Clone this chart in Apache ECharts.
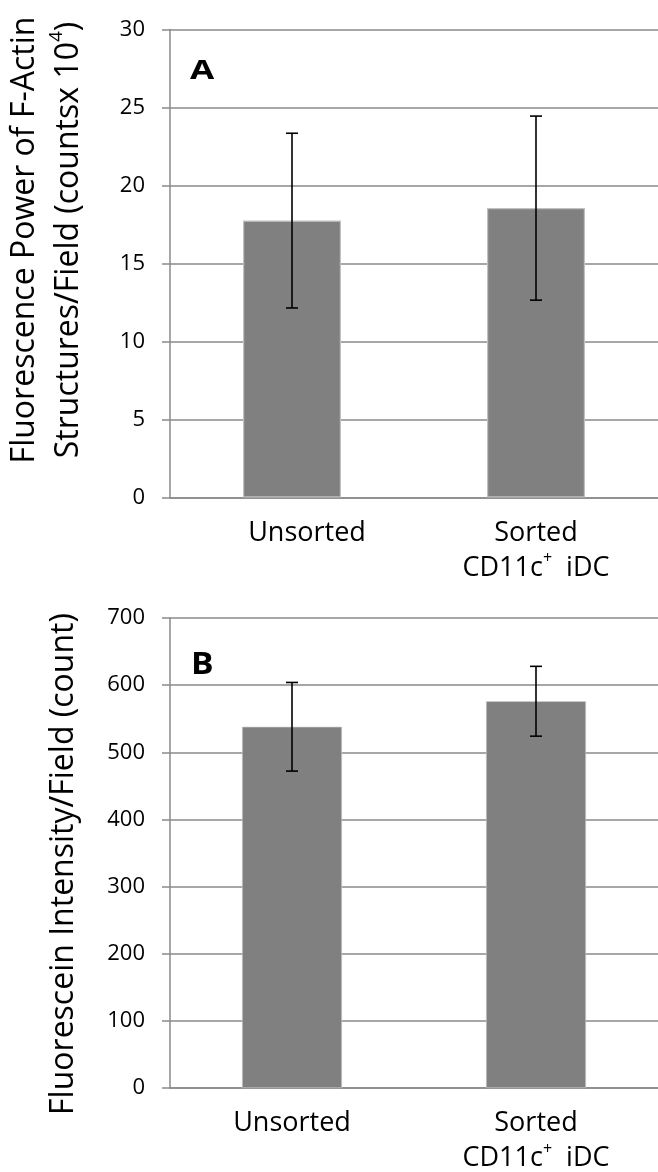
<!DOCTYPE html>
<html>
<head>
<meta charset="utf-8">
<script src="https://cdn.jsdelivr.net/npm/echarts@6/dist/echarts.min.js"></script>
<style>
html,body{margin:0;padding:0;background:#fff;}
#chart{width:658px;height:1172px;}
</style>
</head>
<body>
<div id="chart"></div>
<script>
// ---- data ----
const categories = ['Unsorted', 'Sorted CD11c+ iDC'];
const aValues = [17.75, 18.55];
const aErrors = [5.6, 5.9];
const bValues = [538, 576];
const bErrors = [66, 52];
const aAxis = { min: 0, max: 30, interval: 5 };
const bAxis = { min: 0, max: 700, interval: 100 };
const aTitleLine1 = 'Fluorescence Power of F-Actin';
const aTitleLine2 = 'Structures/Field (countsx 10';
const aTitleSup = '4';
const bTitle = 'Fluorescein Intensity/Field (count)';
const panelLabels = ['A', 'B'];

const FONT = '"Open Sans"';
const gridColor = '#8a8a8a';

function catFormatter(shiftFirst) {
  return function (v) {
    if (v === 'Unsorted') return shiftFirst ? '{u|Unsorted}' : '{t|Unsorted}';
    return '{t|Sorted}\n{t|CD11c}{s|+}{t|  iDC}';
  };
}
const catRich = {
  t: { fontFamily: FONT, fontSize: 27, color: '#000', lineHeight: 35 },
  u: { fontFamily: FONT, fontSize: 27, color: '#000', lineHeight: 35, padding: [0, 0, 0, 30] },
  s: { fontFamily: FONT, fontSize: 16, color: '#000', verticalAlign: 'top', lineHeight: 35 }
};

function errItem() {
  return function (params, api) {
    const i = api.value(0);
    const v = api.value(1);
    const e = api.value(2);
    const top = api.coord([i, v + e]);
    const bot = api.coord([i, v - e]);
    const cap = 6;
    const st = { stroke: '#000', lineWidth: 1.6 };
    return {
      type: 'group',
      children: [
        { type: 'line', shape: { x1: top[0], y1: top[1], x2: bot[0], y2: bot[1] }, style: st },
        { type: 'line', shape: { x1: top[0] - cap, y1: top[1], x2: top[0] + cap, y2: top[1] }, style: st },
        { type: 'line', shape: { x1: bot[0] - cap, y1: bot[1], x2: bot[0] + cap, y2: bot[1] }, style: st }
      ]
    };
  };
}

function xAxisCfg(gi, shiftFirst) {
  return {
    type: 'category', gridIndex: gi, data: categories,
    axisLine: { lineStyle: { color: gridColor, width: 1.5 } },
    axisTick: { show: false },
    axisLabel: { formatter: catFormatter(shiftFirst), rich: catRich, margin: 18, interval: 0 }
  };
}
function yAxisCfg(gi, ax) {
  return {
    type: 'value', gridIndex: gi, min: ax.min, max: ax.max, interval: ax.interval,
    axisLine: { show: true, lineStyle: { color: gridColor, width: 1.5 } },
    axisTick: { show: true, length: 8, inside: false, lineStyle: { color: gridColor, width: 1.5 } },
    splitLine: { show: true, lineStyle: { color: gridColor, width: 1.5 } },
    axisLabel: { fontFamily: FONT, fontSize: 22, color: '#000', margin: 25 }
  };
}

const chart = echarts.init(document.getElementById('chart'), null, { renderer: 'canvas' });
chart.setOption({
  animation: false,
  backgroundColor: '#fff',
  grid: [
    { left: 170, right: 0, top: 29.5, height: 468 },
    { left: 170, right: 0, top: 618, height: 472 }
  ],
  xAxis: [xAxisCfg(0, true), xAxisCfg(1, false)],
  yAxis: [yAxisCfg(0, aAxis), yAxisCfg(1, bAxis)],
  series: [
    {
      type: 'bar', xAxisIndex: 0, yAxisIndex: 0, data: aValues, barWidth: 98,
      itemStyle: { color: '#808080', borderColor: '#c0c0c0', borderWidth: 1.2 }
    },
    {
      type: 'custom', xAxisIndex: 0, yAxisIndex: 0,
      data: aValues.map((v, i) => [i, v, aErrors[i]]),
      renderItem: errItem(), z: 10
    },
    {
      type: 'bar', xAxisIndex: 1, yAxisIndex: 1, data: bValues, barWidth: 100,
      itemStyle: { color: '#808080', borderColor: '#d0d0d0', borderWidth: 0.6 }
    },
    {
      type: 'custom', xAxisIndex: 1, yAxisIndex: 1,
      data: bValues.map((v, i) => [i, v, bErrors[i]]),
      renderItem: errItem(), z: 10
    }
  ],
  graphic: [
    {
      type: 'text', x: 47, y: 240, rotation: Math.PI / 2,
      style: {
        text: '{t|' + aTitleLine1 + '}\n{t|' + aTitleLine2 + '}{s|' + aTitleSup + '}{t|)}',
        align: 'center', verticalAlign: 'middle',
        rich: {
          t: { fontFamily: FONT, fontSize: 32, fill: '#000', lineHeight: 44 },
          s: { fontFamily: FONT, fontSize: 19, fill: '#000', verticalAlign: 'top', lineHeight: 44 }
        }
      }
    },
    {
      type: 'text', x: 64, y: 864, rotation: Math.PI / 2,
      style: {
        text: bTitle, align: 'center', verticalAlign: 'middle',
        fontFamily: FONT, fontSize: 32, fill: '#000'
      }
    },
    {
      type: 'text', x: 190, y: 71, scaleX: 1.3,
      style: { text: panelLabels[0], fontFamily: FONT, fontWeight: 'bold', fontSize: 27, fill: '#000', verticalAlign: 'middle' }
    },
    {
      type: 'text', x: 191, y: 665, scaleX: 1.12,
      style: { text: panelLabels[1], fontFamily: FONT, fontWeight: 'bold', fontSize: 30, fill: '#000', verticalAlign: 'middle' }
    }
  ]
});
</script>
</body>
</html>
